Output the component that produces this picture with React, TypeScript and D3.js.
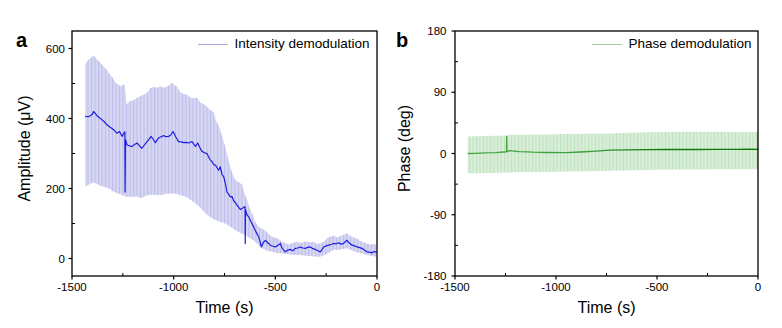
import React from "react";
import * as d3 from "d3";

type P = [number, number];

const xTicks = [-1500, -1000, -500, 0];
const xMinor = [-1250, -750, -250];
const yTicksA = [0, 200, 400, 600];
const yMinorA = [100, 300, 500];
const yTicksB = [-180, -90, 0, 90, 180];
const yMinorB = [-135, -45, 45, 135];

const ampUpper: P[] = [[-1435,554],[-1420,568],[-1394,580],[-1377,569],[-1362,560],[-1345,549],[-1328,538],[-1312,525],[-1298,515],[-1287,502],[-1274,498],[-1262,492],[-1246,497],[-1240,494],[-1232,440],[-1215,450],[-1198,452],[-1180,459],[-1160,465],[-1148,468],[-1131,473],[-1115,487],[-1098,490],[-1082,488],[-1066,492],[-1049,487],[-1033,492],[-1020,496],[-1008,503],[-996,494],[-984,492],[-967,474],[-951,470],[-934,468],[-918,460],[-900,458],[-885,459],[-869,446],[-852,441],[-836,434],[-820,424],[-803,418],[-795,398],[-779,380],[-762,350],[-746,318],[-730,280],[-713,245],[-697,224],[-680,218],[-664,212],[-648,180],[-639,167],[-627,145],[-615,129],[-598,105],[-582,90],[-566,85],[-549,80],[-533,70],[-516,62],[-500,60],[-484,56],[-467,48],[-451,45],[-435,40],[-410,46],[-393,48],[-370,44],[-352,49],[-330,46],[-311,48],[-295,42],[-279,43],[-262,48],[-246,58],[-230,62],[-213,66],[-197,60],[-180,64],[-164,68],[-148,72],[-131,64],[-115,60],[-98,57],[-82,50],[-66,46],[-49,43],[-33,40],[-16,42],[-3,38]];

const ampLower: P[] = [[-1435,205],[-1415,212],[-1394,217],[-1375,212],[-1361,208],[-1345,205],[-1320,200],[-1295,191],[-1270,185],[-1250,180],[-1238,177],[-1210,176],[-1180,177],[-1160,172],[-1131,181],[-1100,182],[-1066,181],[-1040,184],[-1016,186],[-992,186],[-967,181],[-943,177],[-918,168],[-893,158],[-869,146],[-844,129],[-820,118],[-795,110],[-770,104],[-746,100],[-720,90],[-697,81],[-672,73],[-648,67],[-623,58],[-598,48],[-582,38],[-565,29],[-541,22],[-516,19],[-492,16],[-467,14],[-440,12],[-410,10],[-377,10],[-350,8],[-311,6],[-279,5],[-250,12],[-213,24],[-180,26],[-148,29],[-120,22],[-98,18],[-74,14],[-49,10],[-25,7],[-3,5]];

const ampMean: P[] = [[-1435,406],[-1420,405],[-1410,408],[-1400,412],[-1394,420],[-1385,414],[-1377,408],[-1365,402],[-1352,396],[-1340,390],[-1328,382],[-1312,375],[-1295,368],[-1285,362],[-1279,358],[-1266,363],[-1254,349],[-1243,360],[-1240,362],[-1239,190],[-1237,340],[-1230,325],[-1218,322],[-1205,320],[-1192,326],[-1180,330],[-1168,322],[-1156,315],[-1143,325],[-1131,334],[-1120,342],[-1111,349],[-1100,340],[-1090,331],[-1082,338],[-1074,344],[-1062,348],[-1049,351],[-1037,348],[-1025,349],[-1015,352],[-1003,363],[-990,348],[-976,334],[-963,333],[-951,331],[-938,332],[-926,330],[-918,332],[-910,334],[-900,326],[-893,320],[-882,330],[-872,318],[-861,306],[-848,302],[-836,300],[-828,290],[-820,282],[-810,276],[-803,268],[-795,267],[-779,252],[-771,262],[-762,240],[-754,234],[-746,215],[-738,190],[-730,184],[-721,176],[-713,177],[-705,165],[-697,160],[-689,153],[-680,146],[-672,140],[-664,143],[-656,146],[-649,148],[-648,43],[-647,140],[-640,125],[-631,119],[-620,105],[-607,91],[-595,76],[-582,62],[-575,48],[-569,33],[-560,45],[-549,52],[-537,45],[-525,38],[-512,35],[-500,33],[-487,38],[-475,43],[-467,30],[-459,24],[-451,19],[-438,24],[-426,26],[-414,22],[-402,29],[-390,30],[-377,33],[-365,30],[-352,29],[-340,32],[-328,33],[-315,28],[-303,26],[-291,22],[-279,19],[-270,26],[-262,33],[-250,36],[-238,38],[-225,40],[-213,43],[-201,42],[-189,45],[-176,41],[-164,43],[-156,48],[-148,52],[-140,46],[-131,42],[-123,38],[-110,36],[-98,33],[-86,31],[-74,29],[-62,24],[-49,19],[-37,18],[-25,16],[-15,20],[-8,19],[-1,18]];

const phaseMean: P[] = [[-1437,0],[-1400,0.3],[-1350,0.8],[-1300,1.4],[-1260,2.2],[-1245,2.4],[-1244,25],[-1243,2.6],[-1230,4.2],[-1220,3.9],[-1180,2.9],[-1113,1.9],[-1050,1.5],[-948,1.4],[-880,2.2],[-800,3.5],[-733,4.9],[-650,5.4],[-550,5.8],[-453,5.9],[-400,6.2],[-300,5.9],[-200,6.1],[-100,6.0],[-40,6.3],[0,6.2]];
const phaseUpper: P[] = [[-1437,25],[-1400,25.5],[-1300,26],[-1244,26.5],[-1240,27.5],[-1150,27.5],[-1050,28],[-950,28.5],[-850,29],[-733,29.5],[-600,31],[-500,31.5],[-400,32],[-300,32],[-200,32],[-100,31.5],[0,31.5]];
const phaseLower: P[] = [[-1437,-29],[-1400,-29],[-1300,-28.5],[-1244,-28],[-1150,-27],[-1050,-27],[-950,-26.5],[-850,-26],[-733,-25.5],[-600,-24.5],[-500,-24],[-400,-23.5],[-300,-23.5],[-200,-23],[-100,-23],[0,-23]];

const FONT = "'Liberation Sans', Arial, Helvetica, sans-serif";

interface PanelProps {
  x0: number; x1: number; y0: number; y1: number;
  yDomain: [number, number];
  yTicks: number[]; yMinor: number[];
  upper: P[]; lower: P[]; mean: P[];
  pattern: string; meanStroke: string; meanWidth: number;
  legendColor: string; legendText: string;
  legendX: number; yLabel: string; yLabelX: number; labelGap: number;
  panelLabel: string; panelLabelX: number;
}

function Panel(p: PanelProps) {
  const x = d3.scaleLinear().domain([-1500, 0]).range([p.x0, p.x1]);
  const y = d3.scaleLinear().domain(p.yDomain).range([p.y1, p.y0]);
  const line = d3.line<P>().x((d) => x(d[0])).y((d) => y(d[1]));
  const band = line([...p.upper, ...p.lower.slice().reverse()]) + "Z";
  const cy = (p.y0 + p.y1) / 2 - 5;
  const cx = (p.x0 + p.x1) / 2;
  return (
    <g>
      <path d={band} fill={`url(#${p.pattern})`} stroke="none" />
      <path d={line(p.mean) || ""} fill="none" stroke={p.meanStroke} strokeWidth={p.meanWidth} strokeLinejoin="round" />
      <rect x={p.x0} y={p.y0} width={p.x1 - p.x0} height={p.y1 - p.y0} fill="none" stroke="#000" strokeWidth={1.3} />
      {xTicks.map((t) => (
        <g key={"xt" + t}>
          <line x1={x(t)} x2={x(t)} y1={p.y1} y2={p.y1 + 3.5} stroke="#000" strokeWidth={1.2} />
          <text x={x(t)} y={290.5} textAnchor="middle" fontSize={11.5} fontFamily={FONT}>{t}</text>
        </g>
      ))}
      {xMinor.map((t) => (
        <line key={"xm" + t} x1={x(t)} x2={x(t)} y1={p.y1} y2={p.y1 - 3} stroke="#000" strokeWidth={1} />
      ))}
      {p.yTicks.map((t) => (
        <g key={"yt" + t}>
          <line x1={p.x0 - 3.5} x2={p.x0} y1={y(t)} y2={y(t)} stroke="#000" strokeWidth={1.2} />
          <text x={p.x0 - p.labelGap} y={y(t) + 4.2} textAnchor="end" fontSize={11.5} fontFamily={FONT}>{t}</text>
        </g>
      ))}
      {p.yMinor.map((t) => (
        <line key={"ym" + t} x1={p.x0} x2={p.x0 + 3} y1={y(t)} y2={y(t)} stroke="#000" strokeWidth={1} />
      ))}
      <text x={cx} y={313} textAnchor="middle" fontSize={16} fontFamily={FONT}>Time (s)</text>
      <text transform={`translate(${p.yLabelX},${cy}) rotate(-90)`} textAnchor="middle" fontSize={16} fontFamily={FONT}>{p.yLabel}</text>
      <text x={p.panelLabelX} y={46.5} fontSize={20} fontWeight="bold" fontFamily={FONT}>{p.panelLabel}</text>
      <line x1={p.legendX} x2={p.legendX + 30} y1={44.5} y2={44.5} stroke={p.legendColor} strokeWidth={1} shapeRendering="crispEdges" />
      <text x={p.legendX + 36.5} y={48} fontSize={13.5} fontFamily={FONT}>{p.legendText}</text>
    </g>
  );
}

export default function App() {
  return (
    <svg width={782} height={328} style={{ display: "block", position: "absolute", left: 0, top: 0 }}>
      <defs>
        <pattern id="patA" patternUnits="userSpaceOnUse" width={3.5} height={10}>
          <rect width={3.5} height={10} fill="#d6d6f4" />
          <rect width={1} height={10} fill="#bcbce8" />
        </pattern>
        <pattern id="patB" patternUnits="userSpaceOnUse" width={3.5} height={10}>
          <rect width={3.5} height={10} fill="#d8eed8" />
          <rect width={1} height={10} fill="#c0e1c0" />
        </pattern>
        <linearGradient id="gradB" gradientUnits="userSpaceOnUse" x1={455} x2={758} y1={0} y2={0}>
          <stop offset="0%" stopColor="#4aa84a" />
          <stop offset="45%" stopColor="#3c9f3c" />
          <stop offset="62%" stopColor="#0d7d0d" />
          <stop offset="100%" stopColor="#0a7a0a" />
        </linearGradient>
      </defs>
      <rect width={782} height={328} fill="#fff" />
      <Panel x0={72} x1={377} y0={31} y1={276} yDomain={[-50, 650]}
        yTicks={yTicksA} yMinor={yMinorA}
        upper={ampUpper} lower={ampLower} mean={ampMean}
        pattern="patA" meanStroke="#1c1ce0" meanWidth={1.2}
        legendColor="#aaaae2" legendText="Intensity demodulation" legendX={198}
        yLabel="Amplitude (μV)" yLabelX={30} labelGap={7}
        panelLabel="a" panelLabelX={16} />
      <Panel x0={455} x1={758} y0={31} y1={276} yDomain={[-180, 180]}
        yTicks={yTicksB} yMinor={yMinorB}
        upper={phaseUpper} lower={phaseLower} mean={phaseMean}
        pattern="patB" meanStroke="url(#gradB)" meanWidth={1.3}
        legendColor="#9ed29e" legendText="Phase demodulation" legendX={592}
        yLabel="Phase (deg)" yLabelX={410} labelGap={8.5}
        panelLabel="b" panelLabelX={396} />
    </svg>
  );
}
